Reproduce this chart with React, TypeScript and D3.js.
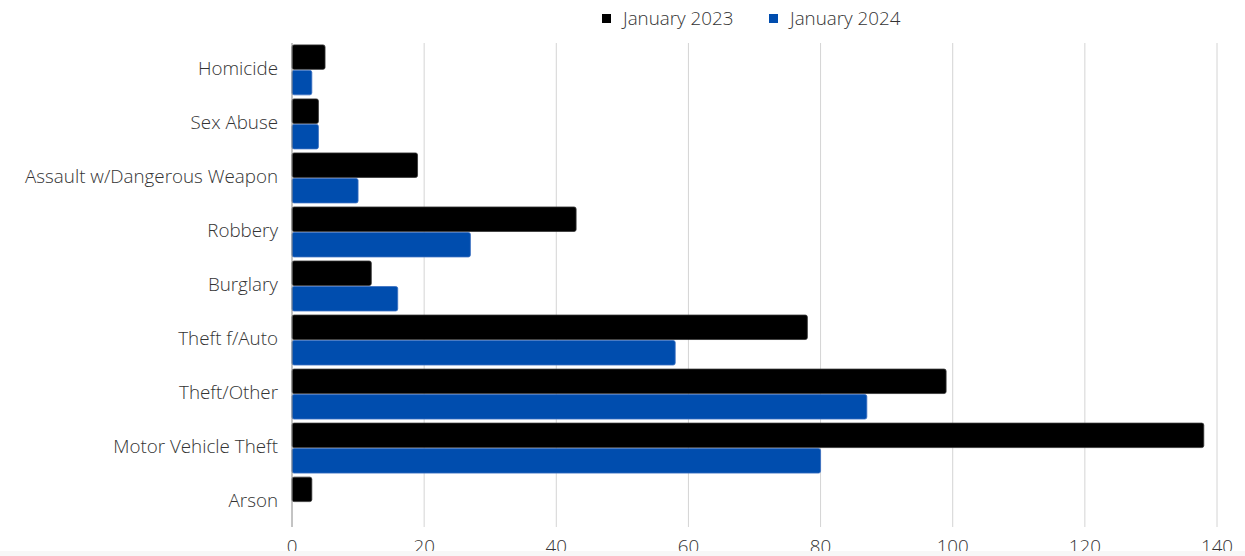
import React from "react";
import * as d3 from "d3";

const categories = [
  "Homicide",
  "Sex Abuse",
  "Assault w/Dangerous Weapon",
  "Robbery",
  "Burglary",
  "Theft f/Auto",
  "Theft/Other",
  "Motor Vehicle Theft",
  "Arson",
];
const series2023 = [5, 4, 19, 43, 12, 78, 99, 138, 3];
const series2024 = [3, 4, 10, 27, 16, 58, 87, 80, 0];
const seriesNames = ["January 2023", "January 2024"];
const seriesColors = ["#000000", "#004DAE"];
const xTicks = [0, 20, 40, 60, 80, 100, 120, 140];

const W = 1245;
const H = 556;
const left = 292;
const right = 1217;
const top = 43;
const bottom = 529;
const font = "'Open Sans', sans-serif";
const fs = 18.8;

export default function App() {
  const x = d3.scaleLinear().domain([0, 140]).range([left, right]);
  const y = d3.scaleBand<string>().domain(categories).range([top, bottom]).paddingInner(0.075).paddingOuter(0.035);
  const sub = d3.scaleBand<number>().domain([0, 1]).range([0, y.bandwidth()]).paddingInner(0.04);
  const data = [series2023, series2024];

  return (
    <svg width={W} height={H} style={{ position: "absolute", left: 0, top: 0, background: "#fff" }}>
      <rect x={0} y={0} width={W} height={H} fill="#fff" />
      {xTicks.slice(1).map((t) => (
        <line key={t} x1={x(t)} x2={x(t)} y1={top} y2={527} stroke="#d4d4d4" strokeWidth={1} />
      ))}
      {categories.map((c, i) => (
        <g key={c}>
          {data.map((s, k) =>
            s[i] > 0 ? (
              <rect
                key={k}
                x={x(0)}
                y={(y(c) as number) + (sub(k) as number)}
                width={x(s[i]) - x(0)}
                height={sub.bandwidth()}
                rx={2}
                fill={seriesColors[k]}
                stroke={k === 0 ? "#333" : "#3a6fc0"}
                strokeWidth={0.8}
              />
            ) : null
          )}
          <text
            x={left - 14}
            y={(y(c) as number) + y.bandwidth() / 2 - 1.5}
            dy="0.35em"
            textAnchor="end"
            fontFamily={font}
            fontWeight={300}
            fontSize={fs}
            fill="#333"
          >
            {c}
          </text>
        </g>
      ))}
      <line x1={left} x2={left} y1={top} y2={527} stroke="#888" strokeWidth={1} />
      {xTicks.map((t) => (
        <text key={t} x={x(t)} y={553} textAnchor="middle" fontFamily={font} fontWeight={300} fontSize={fs} fill="#333">
          {t}
        </text>
      ))}
      <rect x={0} y={551} width={W} height={H - 551} fill="#f7f7f7" />
      {seriesNames.map((n, k) => (
        <g key={n} transform={`translate(${602 + k * 167},0)`}>
          <rect x={0} y={14} width={9} height={9} fill={seriesColors[k]} />
          <text x={21} y={18} dy="0.35em" fontFamily={font} fontWeight={300} fontSize={fs} fill="#333">
            {n}
          </text>
        </g>
      ))}
    </svg>
  );
}
